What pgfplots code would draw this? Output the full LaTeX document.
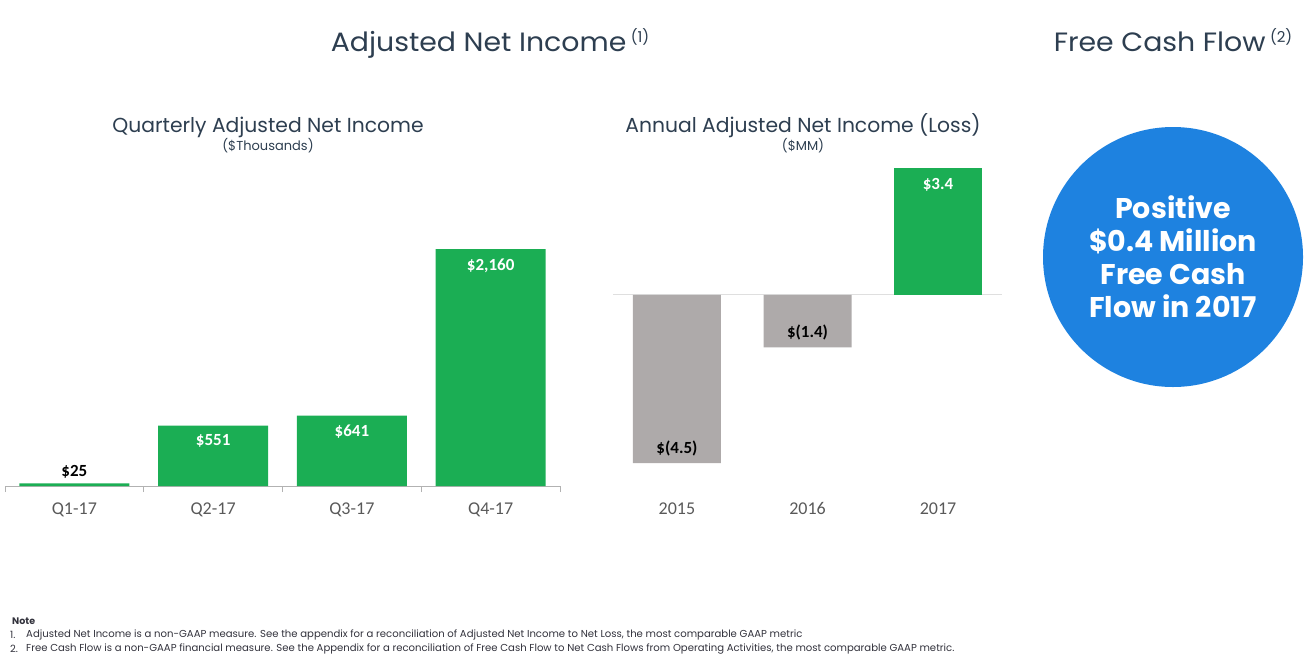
\documentclass[border=0pt]{standalone}
\usepackage{fontspec}
\setmainfont{Poppins}
\newfontfamily\calib{Carlito}
\usepackage{pgfplots}
\pgfplotsset{compat=1.18}
\definecolor{grn}{RGB}{27,174,84}
\definecolor{gry}{RGB}{174,170,170}
\definecolor{blu}{RGB}{30,130,224}
\definecolor{ttl}{RGB}{45,62,80}
\definecolor{tickc}{RGB}{89,89,89}
\definecolor{notec}{RGB}{50,50,60}
\begin{document}
\begin{tikzpicture}[x=1pt,y=1pt]
\useasboundingbox (0,0) rectangle (1308,-659);
% titles
\node[anchor=base, text=ttl, font=\fontsize{26.5}{26.5}\selectfont] at (490,-51) {\scalebox{1.07}[1]{Adjusted Net Income}\,\raisebox{9pt}{\fontsize{15}{15}\selectfont (1)}};
\node[anchor=base, text=ttl, font=\fontsize{26.5}{26.5}\selectfont] at (1173,-51) {\scalebox{1.07}[1]{Free Cash Flow}\,\raisebox{9pt}{\fontsize{15}{15}\selectfont (2)}};
\node[anchor=base, text=ttl, font=\fontsize{20.3}{20.3}\selectfont] at (268,-132) {Quarterly Adjusted Net Income};
\node[anchor=base, text=ttl, font=\fontsize{13}{13}\selectfont] at (268,-150) {(\$Thousands)};
\node[anchor=base, text=ttl, font=\fontsize{20.3}{20.3}\selectfont] at (803,-132) {Annual Adjusted Net Income (Loss)};
\node[anchor=base, text=ttl, font=\fontsize{13}{13}\selectfont] at (803,-150) {(\$MM)};
% left chart
\begin{axis}[at={(5pt,-486pt)}, anchor=south west, scale only axis,
  width=555pt, height=237pt, xmin=-0.5, xmax=3.5, ymin=0, ymax=2160,
  axis y line=none, axis x line*=bottom, clip=false,
  x axis line style={draw=gray!60, line width=0.8pt},
  xtick={0,1,2,3}, xticklabels={Q1-17,Q2-17,Q3-17,Q4-17},
  major tick length=0pt,
  extra x ticks={-0.5,0.5,1.5,2.5,3.5}, extra x tick labels={},
  extra x tick style={major tick length=6pt, tick align=outside, tick style={draw=gray!60, line width=0.8pt}},
  xticklabel style={font=\calib\fontsize{18}{18}\selectfont, text=tickc, yshift=-13pt},
  ytick=\empty]
\addplot[ybar, bar width=110pt, bar shift=0pt, fill=grn, draw=none] coordinates {(0,25) (1,551) (2,641) (3,2160)};
\node[font=\calib\bfseries\fontsize{17}{17}\selectfont, text=black] at (axis cs:0,25) [yshift=11pt] {\$25};
\node[font=\calib\bfseries\fontsize{17}{17}\selectfont, text=white] at (axis cs:1,551) [yshift=-15pt] {\$551};
\node[font=\calib\bfseries\fontsize{17}{17}\selectfont, text=white] at (axis cs:2,641) [yshift=-16pt] {\$641};
\node[font=\calib\bfseries\fontsize{17}{17}\selectfont, text=white] at (axis cs:3,2160) [yshift=-17pt] {\$2,160};
\end{axis}
% right chart
\begin{axis}[at={(613pt,-463pt)}, anchor=south west, scale only axis,
  width=389pt, height=295pt, xmin=-0.49, xmax=2.49, ymin=-4.5, ymax=3.4,
  axis y line=none, axis x line*=bottom, clip=false,
  x axis line style={draw=none},
  xtick={0,1,2}, xticklabels={2015,2016,2017}, major tick length=0pt,
  xticklabel style={font=\calib\fontsize{18}{18}\selectfont, text=tickc, yshift=-36pt},
  ytick=\empty]
\draw[gray!25, line width=1pt] (axis cs:-0.49,0) -- (axis cs:2.49,0);
\addplot[ybar, bar width=88pt, bar shift=0pt, fill=gry, draw=none] coordinates {(0,-4.5) (1,-1.4)};
\addplot[ybar, bar width=88pt, bar shift=0pt, fill=grn, draw=none] coordinates {(2,3.4)};
\node[font=\calib\bfseries\fontsize{17}{17}\selectfont, text=black] at (axis cs:0,-4.5) [yshift=15pt] {\$(4.5)};
\node[font=\calib\bfseries\fontsize{17}{17}\selectfont, text=black] at (axis cs:1,-1.4) [yshift=15pt] {\$(1.4)};
\node[font=\calib\bfseries\fontsize{17}{17}\selectfont, text=white] at (axis cs:2,3.4) [yshift=-17pt] {\$3.4};
\end{axis}
% circle
\fill[blu] (1173,-257) circle (130);
\node[text=white, align=center, font=\bfseries\fontsize{28.5}{33}\selectfont] at (1173,-257) {Positive\\\$0.4 Million\\Free Cash\\Flow in 2017};
% notes
\node[anchor=west, inner sep=0pt, text=notec, font=\bfseries\fontsize{9.5}{9.5}\selectfont] at (12,-621) {Note};
\node[anchor=west, inner sep=0pt, text=notec, font=\fontsize{10}{10}\selectfont] at (10,-635) {1.};
\node[anchor=west, inner sep=0pt, text=notec, font=\fontsize{10}{10}\selectfont] at (10,-649) {2.};
\node[anchor=west, inner sep=0pt, text=notec, font=\fontsize{10.1}{10}\selectfont] at (26,-635) {Adjusted Net Income is a non-GAAP measure. See the appendix for a reconciliation of Adjusted Net Income to Net Loss, the most comparable GAAP metric};
\node[anchor=west, inner sep=0pt, text=notec, font=\fontsize{10.1}{10}\selectfont] at (26,-649) {Free Cash Flow is a non-GAAP financial measure. See the Appendix for a reconciliation of Free Cash Flow to Net Cash Flows from Operating Activities, the most comparable GAAP metric.};
\end{tikzpicture}
\end{document}
